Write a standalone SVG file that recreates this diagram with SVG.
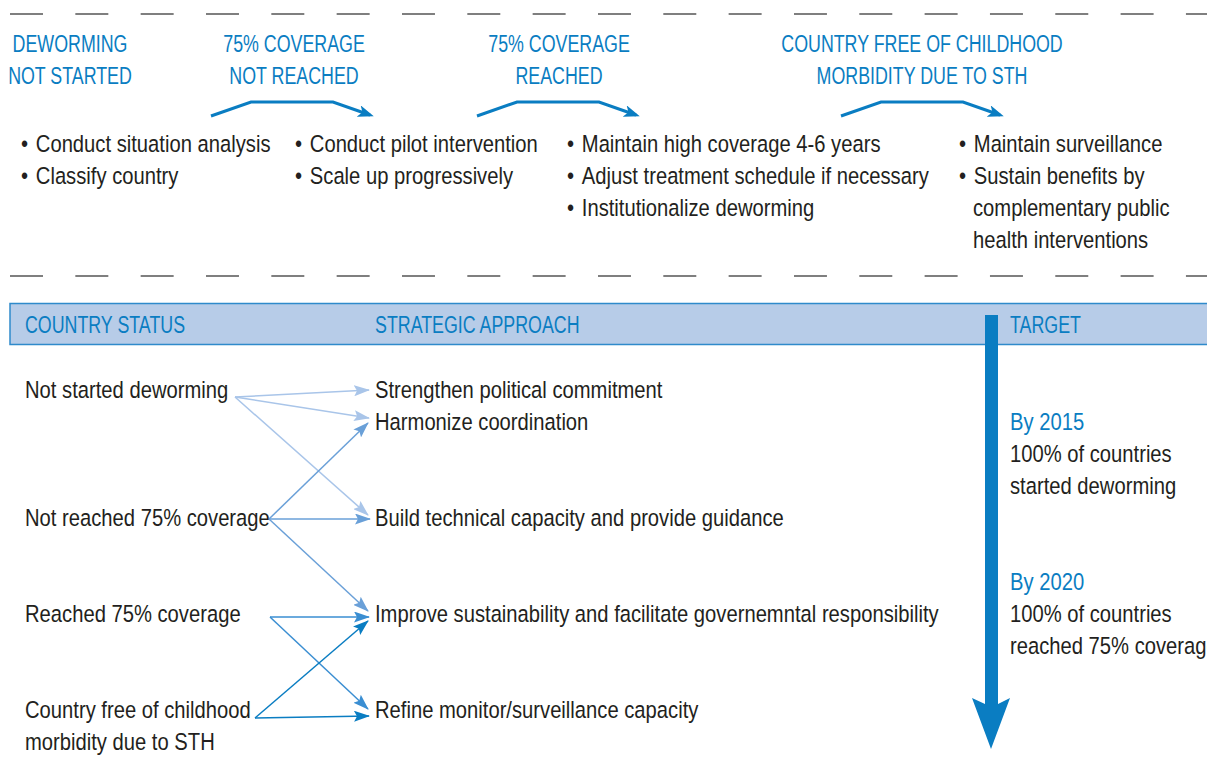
<svg xmlns="http://www.w3.org/2000/svg" width="1207" height="760" viewBox="0 0 1207 760">
<style>
text{font-family:"Liberation Sans",Arial,sans-serif}
.h{fill:#0a7dc2;font-size:23px;text-anchor:middle}
.hb{fill:#0a7dc2;font-size:23px}
.t{fill:#231f20;font-size:23.5px}
.b{fill:#0a7dc2;font-size:23.5px}
.dash{stroke:#555;stroke-width:1.4;stroke-dasharray:33 32.33;fill:none}
.top{stroke:#0a7dc2;stroke-width:3;fill:none}
.c1{stroke:#a9c5e9;stroke-width:1.5;fill:none}
.c2{stroke:#6aa0d8;stroke-width:1.5;fill:none}
.c3{stroke:#3a8ed2;stroke-width:1.5;fill:none}
.c4{stroke:#0a7dc2;stroke-width:1.5;fill:none}
</style>
<defs>
<marker id="mt" markerUnits="userSpaceOnUse" viewBox="0 0 16 12" refX="12" refY="6" markerWidth="16" markerHeight="12" orient="auto"><path d="M0,0 L16,6 L0,12 L4,6 Z" fill="#0a7dc2"/></marker>
<marker id="m1" markerUnits="userSpaceOnUse" viewBox="0 0 16 11" refX="15" refY="5.5" markerWidth="16" markerHeight="11" orient="auto"><path d="M0,0 L16,5.5 L0,11 L3,5.5 Z" fill="#a9c5e9"/></marker>
<marker id="m2" markerUnits="userSpaceOnUse" viewBox="0 0 16 11" refX="15" refY="5.5" markerWidth="16" markerHeight="11" orient="auto"><path d="M0,0 L16,5.5 L0,11 L3,5.5 Z" fill="#6aa0d8"/></marker>
<marker id="m3" markerUnits="userSpaceOnUse" viewBox="0 0 16 11" refX="15" refY="5.5" markerWidth="16" markerHeight="11" orient="auto"><path d="M0,0 L16,5.5 L0,11 L3,5.5 Z" fill="#3a8ed2"/></marker>
<marker id="m4" markerUnits="userSpaceOnUse" viewBox="0 0 16 11" refX="15" refY="5.5" markerWidth="16" markerHeight="11" orient="auto"><path d="M0,0 L16,5.5 L0,11 L3,5.5 Z" fill="#0a7dc2"/></marker>
</defs>
<rect width="1207" height="760" fill="#fff"/>

<g id="dividers">
<line class="dash" x1="10" y1="14" x2="1207" y2="14"/>
<line class="dash" x1="10" y1="276" x2="1207" y2="276"/>
</g>

<g id="stage-1">
<text class="h" transform="translate(70,52) scale(0.775,1)">DEWORMING</text>
<text class="h" transform="translate(70,84) scale(0.775,1)">NOT STARTED</text>
<text class="t" transform="translate(21,152) scale(0.86,1)">•<tspan dx="9">Conduct situation analysis</tspan></text>
<text class="t" transform="translate(21,184) scale(0.86,1)">•<tspan dx="9">Classify country</tspan></text>
</g>
<g id="stage-2">
<text class="h" transform="translate(294,52) scale(0.775,1)">75% COVERAGE</text>
<text class="h" transform="translate(294,84) scale(0.775,1)">NOT REACHED</text>
<text class="t" transform="translate(295,152) scale(0.86,1)">•<tspan dx="9">Conduct pilot intervention</tspan></text>
<text class="t" transform="translate(295,184) scale(0.86,1)">•<tspan dx="9">Scale up progressively</tspan></text>
</g>
<g id="stage-3">
<text class="h" transform="translate(559,52) scale(0.775,1)">75% COVERAGE</text>
<text class="h" transform="translate(559,84) scale(0.775,1)">REACHED</text>
<text class="t" transform="translate(567,152) scale(0.86,1)">•<tspan dx="9">Maintain high coverage 4-6 years</tspan></text>
<text class="t" transform="translate(567,184) scale(0.86,1)">•<tspan dx="9">Adjust treatment schedule if necessary</tspan></text>
<text class="t" transform="translate(567,216) scale(0.86,1)">•<tspan dx="9">Institutionalize deworming</tspan></text>
</g>
<g id="stage-4">
<text class="h" transform="translate(922,52) scale(0.775,1)">COUNTRY FREE OF CHILDHOOD</text>
<text class="h" transform="translate(922,84) scale(0.775,1)">MORBIDITY DUE TO STH</text>
<text class="t" transform="translate(959,152) scale(0.86,1)">•<tspan dx="9">Maintain surveillance</tspan></text>
<text class="t" transform="translate(959,184) scale(0.86,1)">•<tspan dx="9">Sustain benefits by</tspan></text>
<text class="t" transform="translate(973,216) scale(0.86,1)">complementary public</text>
<text class="t" transform="translate(973,248) scale(0.86,1)">health interventions</text>
</g>
<g id="stage-arrows">
<path class="top" d="M211,116 L251,102 L333,102 L370,115" marker-end="url(#mt)"/>
<path class="top" d="M477,116 L517,102 L599,102 L636,115" marker-end="url(#mt)"/>
<path class="top" d="M841,116 L881,102 L963,102 L1000,115" marker-end="url(#mt)"/>
</g>

<g id="header-band">
<rect x="10" y="303.5" width="1200" height="41" fill="#b7cce8" stroke="#2f8acb" stroke-width="1.5"/>
<text class="hb" transform="translate(25,333) scale(0.775,1)">COUNTRY STATUS</text>
<text class="hb" transform="translate(375,333) scale(0.775,1)">STRATEGIC APPROACH</text>
<text class="hb" transform="translate(1010,333) scale(0.775,1)">TARGET</text>
</g>

<g id="timeline-arrow">
<path d="M985,315 H998 V704 L1010,698 L991,749 L972,698 L985,704 Z" fill="#0a7dc2"/>
</g>

<g id="status-not-started"><text class="t" transform="translate(25,398) scale(0.86,1)">Not started deworming</text></g>
<g id="status-not-reached"><text class="t" transform="translate(25,526) scale(0.86,1)">Not reached 75% coverage</text></g>
<g id="status-reached"><text class="t" transform="translate(25,622) scale(0.86,1)">Reached 75% coverage</text></g>
<g id="status-free"><text class="t" transform="translate(25,718) scale(0.86,1)">Country free of childhood</text><text class="t" transform="translate(25,750) scale(0.86,1)">morbidity due to STH</text></g>

<g id="approach-political"><text class="t" transform="translate(375,398) scale(0.86,1)">Strengthen political commitment</text></g>
<g id="approach-coordination"><text class="t" transform="translate(375,430) scale(0.86,1)">Harmonize coordination</text></g>
<g id="approach-capacity"><text class="t" transform="translate(375,526) scale(0.86,1)">Build technical capacity and provide guidance</text></g>
<g id="approach-sustainability"><text class="t" transform="translate(375,622) scale(0.86,1)">Improve sustainability and facilitate governemntal responsibility</text></g>
<g id="approach-surveillance"><text class="t" transform="translate(375,718) scale(0.86,1)">Refine monitor/surveillance capacity</text></g>

<g id="target-2015">
<text class="b" transform="translate(1010,430) scale(0.86,1)">By 2015</text>
<text class="t" transform="translate(1010,462) scale(0.86,1)">100% of countries</text>
<text class="t" transform="translate(1010,494) scale(0.86,1)">started deworming</text>
</g>
<g id="target-2020">
<text class="b" transform="translate(1010,590) scale(0.86,1)">By 2020</text>
<text class="t" transform="translate(1010,622) scale(0.86,1)">100% of countries</text>
<text class="t" transform="translate(1010,654) scale(0.86,1)">reached 75% coverage</text>
</g>

<g id="connectors">
<line class="c1" x1="235" y1="397" x2="369" y2="390" marker-end="url(#m1)"/>
<line class="c1" x1="235" y1="397" x2="369" y2="418" marker-end="url(#m1)"/>
<line class="c1" x1="235" y1="397" x2="368" y2="515" marker-end="url(#m1)"/>
<line class="c2" x1="269" y1="519" x2="368" y2="423" marker-end="url(#m2)"/>
<line class="c2" x1="269" y1="519" x2="370" y2="519" marker-end="url(#m2)"/>
<line class="c2" x1="269" y1="519" x2="368" y2="611" marker-end="url(#m2)"/>
<line class="c3" x1="270" y1="617" x2="369" y2="617" marker-end="url(#m3)"/>
<line class="c3" x1="270" y1="617" x2="368" y2="709" marker-end="url(#m3)"/>
<line class="c4" x1="255" y1="718" x2="368" y2="621" marker-end="url(#m4)"/>
<line class="c4" x1="255" y1="718" x2="369" y2="716" marker-end="url(#m4)"/>
</g>
</svg>
